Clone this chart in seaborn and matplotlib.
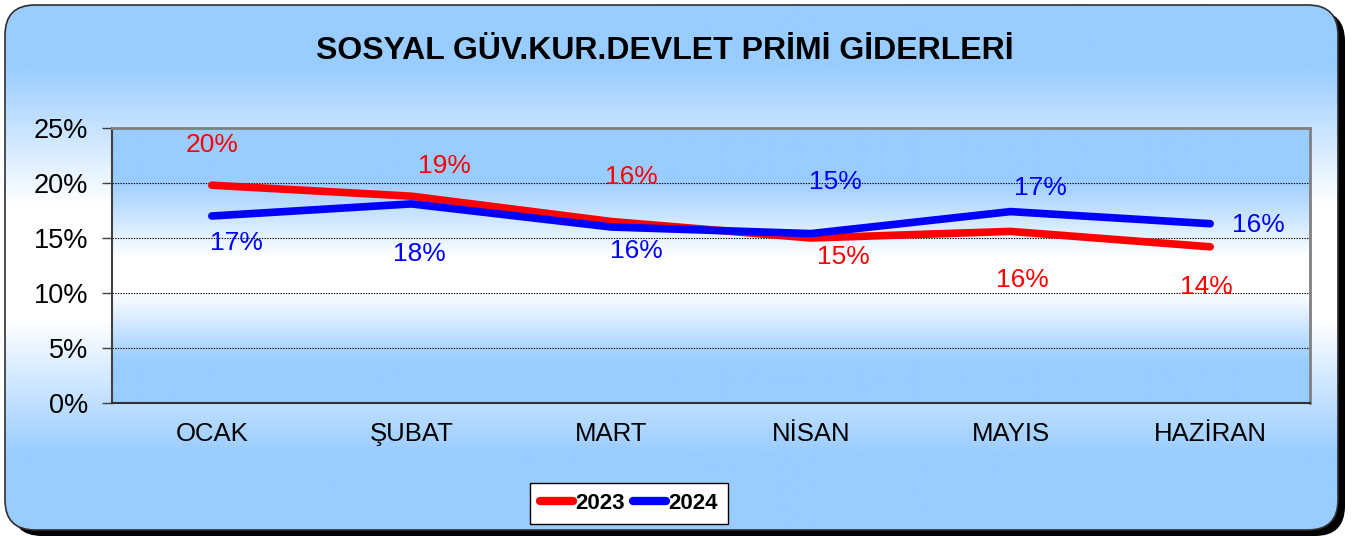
import numpy as np
import pandas as pd
import matplotlib
matplotlib.use("Agg")
import matplotlib.pyplot as plt
from matplotlib.patches import FancyBboxPatch
from matplotlib.lines import Line2D
import seaborn as sns

# ---- data ----
months = ["OCAK", "ŞUBAT", "MART", "NİSAN", "MAYIS", "HAZİRAN"]
years = ["2023", "2024"]
values_2023 = [19.8, 18.8, 16.5, 15.0, 15.6, 14.2]
values_2024 = [17.0, 18.1, 16.0, 15.4, 17.4, 16.3]
yticks = [0, 5, 10, 15, 20, 25]
title = "SOSYAL GÜV.KUR.DEVLET PRİMİ GİDERLERİ"

# label offsets (pixels, y up) - layout only
off_2023 = [(0, 40), (33, 30), (20, 44), (33, -19), (12, -49), (-4, -40)]
off_2024 = [(25, -27), (8, -50), (25, -24), (25, 52), (30, 24), (48, -1)]

df = pd.DataFrame({
    "month": months * 2,
    "year": [years[0]] * len(months) + [years[1]] * len(months),
    "value": values_2023 + values_2024,
})

sns.set_theme(style="white")
plt.rcParams["font.family"] = ["Liberation Sans", "DejaVu Sans"]

leg_prop = {"family": "Liberation Sans", "weight": "bold", "size": 16}

W, H = 1354, 536
fig = plt.figure(figsize=(W / 100, H / 100), dpi=100)
fig.patch.set_facecolor("white")

# ---- outer frame background ----
bg = fig.add_axes([0, 0, 1, 1])
bg.set_xlim(0, W)
bg.set_ylim(H, 0)
bg.axis("off")

fx0, fy0, fx1, fy1 = 5, 5, 1338, 530
shadow = FancyBboxPatch((fx0 + 7, fy0 + 6), fx1 - fx0, fy1 - fy0,
                        boxstyle="round,pad=0,rounding_size=30",
                        facecolor="black", edgecolor="none", zorder=1)
bg.add_patch(shadow)
frame = FancyBboxPatch((fx0, fy0), fx1 - fx0, fy1 - fy0,
                       boxstyle="round,pad=0,rounding_size=30",
                       facecolor="none", edgecolor="#303030", lw=1.2, zorder=3)
bg.add_patch(frame)

blue = np.array([0x99, 0xCC, 0xFF]) / 255
white = np.array([1.0, 1.0, 1.0])
ys = np.linspace(fy0, fy1, 400)
stops_y = [fy0, 65, 205, 320, 455, fy1]
stops_t = [0, 0, 1, 1, 0, 0]
t = np.interp(ys, stops_y, stops_t)
grad = (blue[None, :] * (1 - t[:, None]) + white[None, :] * t[:, None])[:, None, :]
im = bg.imshow(grad, extent=[fx0, fx1, fy1, fy0], aspect="auto", origin="upper", zorder=2)
im.set_clip_path(frame)

# ---- plot area ----
rect = [112 / W, 1 - 403 / H, (1310 - 112) / W, (403 - 128) / H]
pbg = fig.add_axes(rect)
pys = np.linspace(0, 1, 300)
pt = np.interp(pys, [0, 0.18, 0.47, 0.6, 0.85, 1], [0, 0, 1, 1, 0, 0])
pgrad = (blue[None, :] * (1 - pt[:, None]) + white[None, :] * pt[:, None])[:, None, :]
pbg.imshow(pgrad, extent=[0, 1, 0, 1], aspect="auto", origin="upper")
pbg.axis("off")

ax = fig.add_axes(rect)
ax.patch.set_alpha(0)
palette = {"2023": "#FF0000", "2024": "#0000FF"}
sns.lineplot(data=df, x="month", y="value", hue="year", palette=palette,
             linewidth=5.5, sort=False, legend=False, ax=ax)
for ln in ax.get_lines():
    ln.set_solid_capstyle("round")
    ln.set_solid_joinstyle("round")

ax.set_xlim(-0.5, len(months) - 0.5)
ax.set_ylim(0, 25)
ax.set_yticks(yticks)
ax.set_yticklabels([f"{v}%" for v in yticks])
ax.set_xticks(range(len(months)))
ax.set_xticklabels(months)
ax.set_xticks(np.arange(-0.5, len(months), 1.0), minor=True)
ax.tick_params(axis="x", which="major", length=0, pad=14, labelsize=18.5, colors="black")
ax.tick_params(axis="x", which="minor", length=7, width=1, color="#404040", direction="out")
ax.tick_params(axis="y", which="major", length=7, width=1, color="#404040", direction="out",
               pad=10, labelsize=19.5, left=True)
for lbl in ax.get_xticklabels() + ax.get_yticklabels():
    lbl.set_color("black")
ax.set_xlabel("")
ax.set_ylabel("")

for v in yticks[1:-1]:
    ax.axhline(v, color="black", lw=0.8, linestyle=(0, (1.2, 1.2)), zorder=1)

for side in ["top", "right"]:
    ax.spines[side].set_visible(True)
    ax.spines[side].set_color("#808080")
    ax.spines[side].set_linewidth(2)
ax.spines["left"].set_color("#404040")
ax.spines["left"].set_linewidth(1.5)
ax.spines["bottom"].set_color("#303030")
ax.spines["bottom"].set_linewidth(1.5)

# ---- data labels ----
for vals, offs, yr in [(values_2023, off_2023, "2023"), (values_2024, off_2024, "2024")]:
    for i, (v, o) in enumerate(zip(vals, offs)):
        ax.annotate(f"{v:.0f}%", xy=(i, v), xytext=o, textcoords="offset pixels",
                    ha="center", va="center", fontsize=19, color=palette[yr])

# ---- title ----
fig.text(665 / W, 1 - 51 / H, title, ha="center", va="center",
         fontsize=23, fontweight="bold", color="black")

# ---- legend ----
handles = [Line2D([], [], color=palette[y], lw=6, solid_capstyle="round") for y in years]
hl = 33 / (leg_prop["size"] * 100 / 72)
leg = fig.legend(handles, years, loc="center", bbox_to_anchor=(629 / W, 1 - 503.5 / H),
                 ncol=2, frameon=True, fancybox=False, framealpha=1, handlelength=hl,
                 handletextpad=0.1, columnspacing=0.35, borderpad=0.45,
                 borderaxespad=0, prop=leg_prop)
leg.get_frame().set_edgecolor("black")
leg.get_frame().set_linewidth(1)
leg.get_frame().set_facecolor("white")
for txt in leg.get_texts():
    txt.set_color("black")

fig.savefig("out.png", dpi=100)
